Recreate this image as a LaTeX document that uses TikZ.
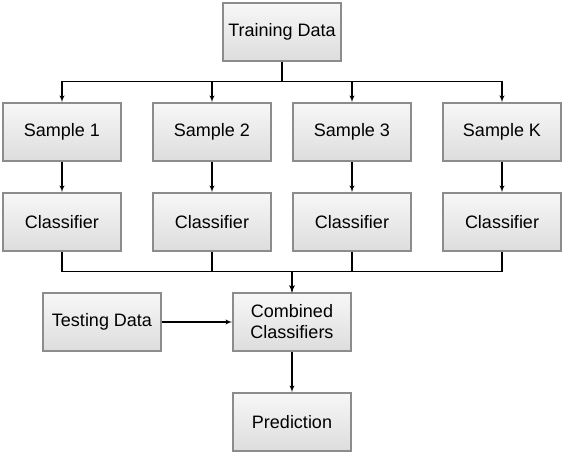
\documentclass[tikz,border=0pt]{standalone}
\usepackage{fontspec}
\setmainfont{Liberation Sans}
\usepackage{tikz}
\usetikzlibrary{arrows}
\definecolor{boxline}{RGB}{140,140,140}
\definecolor{boxtop}{RGB}{247,247,247}
\definecolor{boxbot}{RGB}{221,221,221}

\begin{document}
\begin{tikzpicture}[x=1pt,y=-1pt]
\tikzset{block/.style = {shape=rectangle,draw=boxline,line width=1.6pt,top color=boxtop,bottom color=boxbot,minimum width=118pt,minimum height=58pt,inner sep=0pt,align=center,font=\fontsize{18}{21}\selectfont}}
\tikzset{edge/.style = {->,> = latex',line width=1.3pt}}
\useasboundingbox (0,0) rectangle (564,454);
% blocks

\node[block] (train) at (282,32) {Training Data};
\node[block] (s1) at  (62,132) {Sample 1};
\node[block] (s2) at (212,132) {Sample 2};
\node[block] (s3) at (352,132) {Sample 3};
\node[block] (sk) at (502,132) {Sample K};
\node[block] (c1) at  (62,222) {Classifier};
\node[block] (c2) at (212,222) {Classifier};
\node[block] (c3) at (352,222) {Classifier};
\node[block] (ck) at (502,222) {Classifier};
\node[block] (test) at (102,322) {Testing Data};
\node[block] (comb) at (292,322) {Combined\\Classifiers};
\node[block] (pred) at (292,422) {Prediction};

%edges
\foreach \s in {s1,s2,s3,sk}
  \draw[edge] (train.south) -- ++(0,20) -| (\s.north);
\foreach \s/\c in {s1/c1,s2/c2,s3/c3,sk/ck}
  \draw[edge] (\s) to (\c);
\foreach \c in {c1,c2,c3,ck}
  \draw[edge] (\c.south) -- ++(0,20) -| (comb.north);
\draw[edge] (test) to (comb);
\draw[edge] (comb) to (pred);

\end{tikzpicture}
\end{document}
